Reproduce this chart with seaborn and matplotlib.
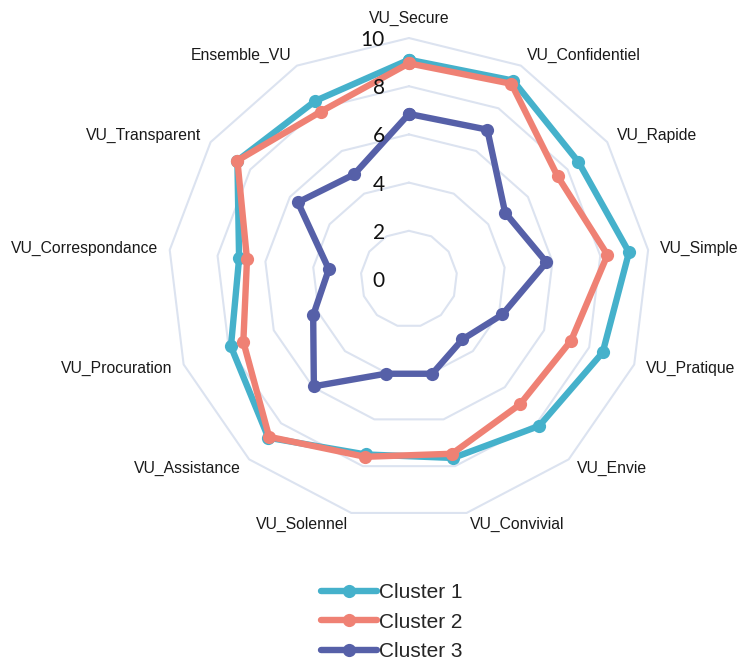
import numpy as np
import pandas as pd
import matplotlib
matplotlib.use('Agg')
import matplotlib.pyplot as plt
import matplotlib.transforms as mtransforms
from matplotlib.lines import Line2D
import seaborn as sns

sns.set_style('white')
plt.rcParams['font.family'] = ['Liberation Sans', 'DejaVu Sans']

# données
categories = ['VU_Secure', 'VU_Confidentiel', 'VU_Rapide', 'VU_Simple', 'VU_Pratique',
              'VU_Envie', 'VU_Convivial', 'VU_Solennel', 'VU_Assistance', 'VU_Procuration',
              'VU_Correspondance', 'VU_Transparent', 'Ensemble_VU']
cluster1 = [9.1, 9.3, 8.55, 9.2, 8.6, 8.15, 7.65, 7.5, 8.8, 7.9, 7.1, 8.65, 8.35]
cluster2 = [8.95, 9.15, 7.5, 8.3, 7.2, 6.95, 7.47, 7.6, 8.75, 7.35, 6.77, 8.65, 7.85]
cluster3 = [6.85, 7.0, 4.85, 5.75, 4.15, 3.35, 4.05, 4.05, 5.95, 4.25, 3.35, 5.6, 4.9]
cluster_names = ['Cluster 1', 'Cluster 2', 'Cluster 3']
r_ticks = [0, 2, 4, 6, 8, 10]

colors = {'Cluster 1': '#45B1CB', 'Cluster 2': '#EF8174', 'Cluster 3': '#5660A8'}
grid_color = '#DCE3F0'

n = len(categories)
angles = np.linspace(0, 2 * np.pi, n, endpoint=False)
angles_closed = np.append(angles, 2 * np.pi)

# table longue pour seaborn (boucle fermée)
rows = []
for name, vals in zip(cluster_names, [cluster1, cluster2, cluster3]):
    vals_closed = list(vals) + [vals[0]]
    for i, (t, v) in enumerate(zip(angles_closed, vals_closed)):
        rows.append({'cluster': name, 'order': i, 'theta': t, 'value': v})
df = pd.DataFrame(rows)

fig = plt.figure(figsize=(7.38, 6.63), dpi=100)
ax = fig.add_axes([0.2276, 0.2157, 0.653, 0.727], projection='polar')
ax.set_theta_zero_location('N')
ax.set_theta_direction(-1)

# grille polygonale (style Excel)
for r in r_ticks[1:]:
    ax.plot(angles_closed, [r] * (n + 1), color=grid_color, lw=1.5, zorder=1, clip_on=False)

for name in cluster_names:
    sub = df[df['cluster'] == name]
    sns.lineplot(data=sub, x='theta', y='value', sort=False, color=colors[name],
                 linewidth=4.6, marker='o', markersize=9.5, markeredgewidth=0,
                 ax=ax, legend=False, zorder=3)

ax.set_ylim(0, 10)
ax.grid(False)
ax.set_xticks([])
ax.set_yticks([])
ax.set_xlabel('')
ax.set_ylabel('')
ax.spines['polar'].set_visible(False)

# étiquettes des catégories
for t, lab in zip(angles, categories):
    s = np.sin(t)
    if abs(s) < 0.1:
        ha = 'center'
        rr = 10.83
    else:
        ha = 'left' if s > 0 else 'right'
        rr = 10.5
    ax.text(t, rr, lab, ha=ha, va='center', fontsize=11.3, color='#1a1a1a', clip_on=False)

# valeurs de l'axe
trans = mtransforms.offset_copy(ax.transData, fig=fig, x=-24, y=-2, units='dots')
for r in r_ticks:
    ax.text(0, r, str(r), transform=trans, ha='right', va='center',
            fontsize=15, family=['Lato', 'DejaVu Sans'], color='#111111')

handles = [Line2D([0], [0], color=colors[c], lw=4.6, marker='o', markersize=9.5,
                  markeredgewidth=0) for c in cluster_names]
fig.legend(handles, cluster_names, loc='center', bbox_to_anchor=(392 / 738, 41 / 663),
           frameon=False, fontsize=15, handlelength=2.7, handletextpad=0.1,
           labelspacing=0.5, borderpad=0)

fig.savefig('out.png', dpi=100, facecolor='white')
